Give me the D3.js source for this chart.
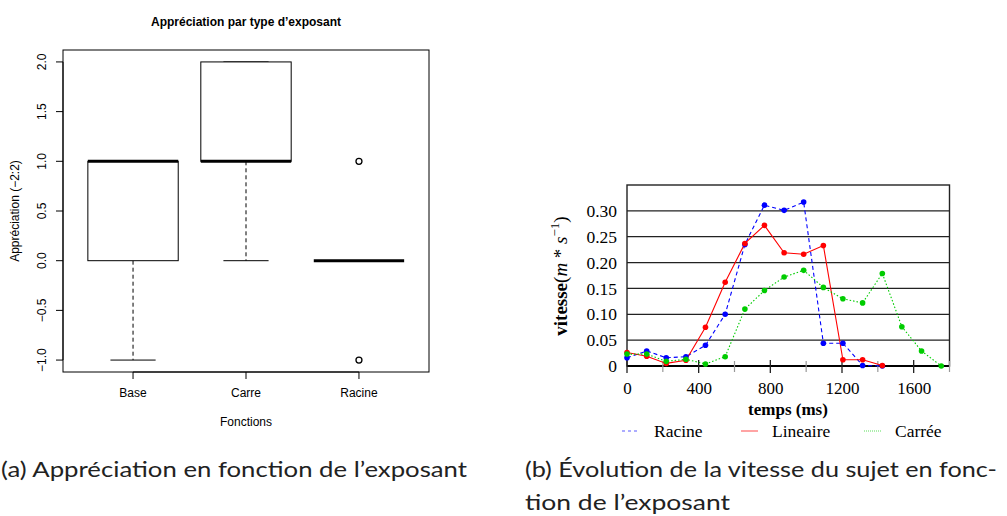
<!DOCTYPE html>
<html><head><meta charset="utf-8">
<script src="https://cdn.jsdelivr.net/npm/d3@7"></script>
<style>body{margin:0;background:#fff}svg{display:block}</style>
</head><body>
<svg id="c" width="1007" height="516"></svg>
<script>
// ---------- Data: left boxplot ----------
const boxCategories = ["Base", "Carre", "Racine"];
const lowerWhisker = [-1, 0, 0];
const q1 = [0, 1, 0];
const median = [1, 1, 0];
const q3 = [1, 2, 0];
const upperWhisker = [1, 2, 0];
const outliers = [[], [], [1, -1]];
const boxYTicks = [-1, -0.5, 0, 0.5, 1, 1.5, 2];

// ---------- Data: right line chart ----------
const timeMs = [0, 110, 219, 329, 438, 548, 658, 767, 877, 986, 1096, 1205, 1315, 1425, 1534, 1644, 1754];
const racine = [0.016, 0.029, 0.016, 0.018, 0.040, 0.100, 0.235, 0.311, 0.301, 0.317, 0.044, 0.044, 0.001, 0.000];
const lineaire = [0.026, 0.019, 0.005, 0.011, 0.075, 0.162, 0.237, 0.272, 0.219, 0.216, 0.233, 0.012, 0.012, 0.001];
const carree = [0.023, 0.023, 0.009, 0.013, 0.004, 0.018, 0.110, 0.146, 0.172, 0.185, 0.152, 0.130, 0.122, 0.179, 0.076, 0.029, 0.000];
const lineYTicks = [0, 0.05, 0.10, 0.15, 0.20, 0.25, 0.30];
const lineXTicks = [0, 400, 800, 1200, 1600];
const lineXMinor = [200, 600, 1000, 1400, 1800];
const seriesNames = ["Racine", "Lineaire", "Carrée"];
const seriesColors = ["#0000ff", "#ff0000", "#00cc00"];

const svg = d3.select("#c");
const sans = "'Liberation Sans', Arial, sans-serif";
const serif = "'Liberation Serif', 'Times New Roman', serif";

// ================= LEFT: BOXPLOT =================
{
  const g = svg.append("g");
  const x = d3.scaleLinear().domain([0.38, 3.62]).range([63, 429]);
  const y = d3.scaleLinear().domain([-1.12, 2.12]).range([372, 50]);
  const bw = x(1.8) - x(1);

  g.append("text").attr("x", 246).attr("y", 26).attr("text-anchor", "middle")
    .attr("font-family", sans).attr("font-weight", "bold").attr("font-size", 12).text("Appréciation par type d’exposant");

  boxCategories.forEach((c, i) => {
    const cx = x(i + 1);
    g.append("line").attr("x1", cx).attr("x2", cx).attr("y1", y(q1[i])).attr("y2", y(lowerWhisker[i]))
      .attr("stroke", "#000").attr("stroke-dasharray", "4,3");
    g.append("line").attr("x1", cx).attr("x2", cx).attr("y1", y(q3[i])).attr("y2", y(upperWhisker[i]))
      .attr("stroke", "#000").attr("stroke-dasharray", "4,3");
    [lowerWhisker[i], upperWhisker[i]].forEach(v => {
      g.append("line").attr("x1", cx - bw / 4).attr("x2", cx + bw / 4).attr("y1", y(v)).attr("y2", y(v))
        .attr("stroke", "#000").attr("stroke-width", 1);
    });
    g.append("rect").attr("x", cx - bw / 2).attr("y", y(q3[i])).attr("width", bw)
      .attr("height", Math.max(0, y(q1[i]) - y(q3[i]))).attr("fill", "#fff").attr("stroke", "#000");
    g.append("line").attr("x1", cx - bw / 2).attr("x2", cx + bw / 2).attr("y1", y(median[i])).attr("y2", y(median[i]))
      .attr("stroke", "#000").attr("stroke-width", 3);
    outliers[i].forEach(v => {
      g.append("circle").attr("cx", cx).attr("cy", y(v)).attr("r", 3).attr("fill", "none")
        .attr("stroke", "#000").attr("stroke-width", 1.3);
    });
  });

  g.append("rect").attr("x", 63).attr("y", 50).attr("width", 366).attr("height", 322)
    .attr("fill", "none").attr("stroke", "#000");

  g.append("line").attr("x1", 63).attr("x2", 63).attr("y1", y(-1)).attr("y2", y(2)).attr("stroke", "#000");
  boxYTicks.forEach(t => {
    g.append("line").attr("x1", 56).attr("x2", 63).attr("y1", y(t)).attr("y2", y(t)).attr("stroke", "#000");
    g.append("text").attr("transform", `translate(46,${y(t)}) rotate(-90)`).attr("text-anchor", "middle")
      .attr("font-family", sans).attr("font-size", 12).text(d3.format(".1f")(t));
  });
  g.append("text").attr("transform", `translate(19,211) rotate(-90)`).attr("text-anchor", "middle")
    .attr("font-family", sans).attr("font-size", 12).text("Appréciation (−2:2)");

  g.append("line").attr("x1", x(1)).attr("x2", x(3)).attr("y1", 372).attr("y2", 372).attr("stroke", "#000");
  boxCategories.forEach((c, i) => {
    g.append("line").attr("x1", x(i + 1)).attr("x2", x(i + 1)).attr("y1", 372).attr("y2", 379).attr("stroke", "#000");
    g.append("text").attr("x", x(i + 1)).attr("y", 397).attr("text-anchor", "middle")
      .attr("font-family", sans).attr("font-size", 12).text(c);
  });
  g.append("text").attr("x", 246).attr("y", 426).attr("text-anchor", "middle")
    .attr("font-family", sans).attr("font-size", 12).text("Fonctions");
}

// ================= RIGHT: LINE CHART =================
{
  const g = svg.append("g");
  const x = d3.scaleLinear().domain([0, 1800]).range([627, 949.5]);
  const y = d3.scaleLinear().domain([0, 0.35]).range([366, 185]);

  lineYTicks.filter(t => t > 0).forEach(t => {
    g.append("line").attr("x1", x(0)).attr("x2", x(1800)).attr("y1", y(t)).attr("y2", y(t))
      .attr("stroke", "#222").attr("stroke-width", 1.3);
  });
  g.append("rect").attr("x", x(0)).attr("y", y(0.35)).attr("width", x(1800) - x(0)).attr("height", y(0) - y(0.35))
    .attr("fill", "none").attr("stroke", "#222").attr("stroke-width", 1.4);
  g.append("line").attr("x1", x(0)).attr("x2", x(1800)).attr("y1", y(0)).attr("y2", y(0))
    .attr("stroke", "#000").attr("stroke-width", 1.8);

  lineXMinor.forEach(t => {
    g.append("line").attr("x1", x(t)).attr("x2", x(t)).attr("y1", 361).attr("y2", 372)
      .attr("stroke", "#999").attr("stroke-width", 1.2);
  });
  lineXTicks.forEach(t => {
    g.append("line").attr("x1", x(t)).attr("x2", x(t)).attr("y1", 360).attr("y2", 373)
      .attr("stroke", "#222").attr("stroke-width", 1.3);
  });

  const ax = g.append("g").attr("transform", `translate(0,${y(0)})`)
    .call(d3.axisBottom(x).tickValues(lineXTicks).tickSize(0).tickPadding(16).tickFormat(d3.format("d")));
  ax.select(".domain").remove();
  ax.selectAll("text").attr("font-family", serif).attr("font-size", 17).attr("fill", "#000");

  const ay = g.append("g").attr("transform", `translate(${x(0)},0)`)
    .call(d3.axisLeft(y).tickValues(lineYTicks).tickSize(0).tickPadding(10)
      .tickFormat(d => d === 0 ? "0" : d3.format(".2f")(d)));
  ay.select(".domain").remove();
  ay.selectAll("text").attr("font-family", serif).attr("font-size", 17.5).attr("fill", "#000");

  const allSeries = [racine, lineaire, carree];
  const dashes = ["4,3", null, "1.5,2"];
  allSeries.forEach((vals, k) => {
    const pts = vals.map((v, i) => [timeMs[i], v]);
    g.append("path").datum(pts)
      .attr("d", d3.line().x(d => x(d[0])).y(d => y(d[1])))
      .attr("fill", "none").attr("stroke", seriesColors[k]).attr("stroke-width", 1.1)
      .attr("stroke-dasharray", dashes[k]);
  });
  allSeries.forEach((vals, k) => {
    g.selectAll(null).data(vals.map((v, i) => [timeMs[i], v])).enter().append("circle")
      .attr("cx", d => x(d[0])).attr("cy", d => y(d[1])).attr("r", 2.8).attr("fill", seriesColors[k]);
  });

  g.append("text").attr("x", 788).attr("y", 415).attr("text-anchor", "middle")
    .attr("font-family", serif).attr("font-weight", "bold").attr("font-size", 17).text("temps (ms)");

  const yl = g.append("text").attr("transform", "translate(567,276) rotate(-90)").attr("text-anchor", "middle")
    .attr("font-family", serif).attr("font-size", 19);
  yl.append("tspan").attr("font-weight", "bold").text("vitesse");
  yl.append("tspan").text("(");
  yl.append("tspan").attr("font-style", "italic").text("m");
  yl.append("tspan").text(" * ");
  yl.append("tspan").attr("font-style", "italic").text("s");
  yl.append("tspan").attr("font-size", 13).attr("dy", -8).text("−1");
  yl.append("tspan").attr("dy", 8).text(")");

  const legX = [622, 741, 864];
  const legTextX = [654, 772, 895];
  seriesNames.forEach((n, k) => {
    g.append("line").attr("x1", legX[k]).attr("x2", legX[k] + 17).attr("y1", 431).attr("y2", 431)
      .attr("stroke", seriesColors[k]).attr("stroke-opacity", 0.65).attr("stroke-width", 1.1)
      .attr("stroke-dasharray", dashes[k] ? (k === 0 ? "3,3" : "1,1") : null);
    g.append("text").attr("x", legTextX[k]).attr("y", 437).attr("font-family", serif).attr("font-size", 17.5).text(n);
  });
}

// ================= CAPTIONS =================
const capFont = "Lato, 'Open Sans', sans-serif";
const captions = [
  { t: "(a) Appréciation en fonction de l’exposant", x: 1, y: 477, w: 466 },
  { t: "(b) Évolution de la vitesse du sujet en fonc-", x: 525, y: 477, w: 472 },
  { t: "tion de l’exposant", x: 525, y: 510, w: 205 }
];
captions.forEach(c => {
  svg.append("text").attr("x", c.x).attr("y", c.y).attr("font-family", capFont).attr("font-size", 22)
    .attr("fill", "#222").attr("textLength", c.w).attr("lengthAdjust", "spacingAndGlyphs").text(c.t);
});
</script>
</body></html>
